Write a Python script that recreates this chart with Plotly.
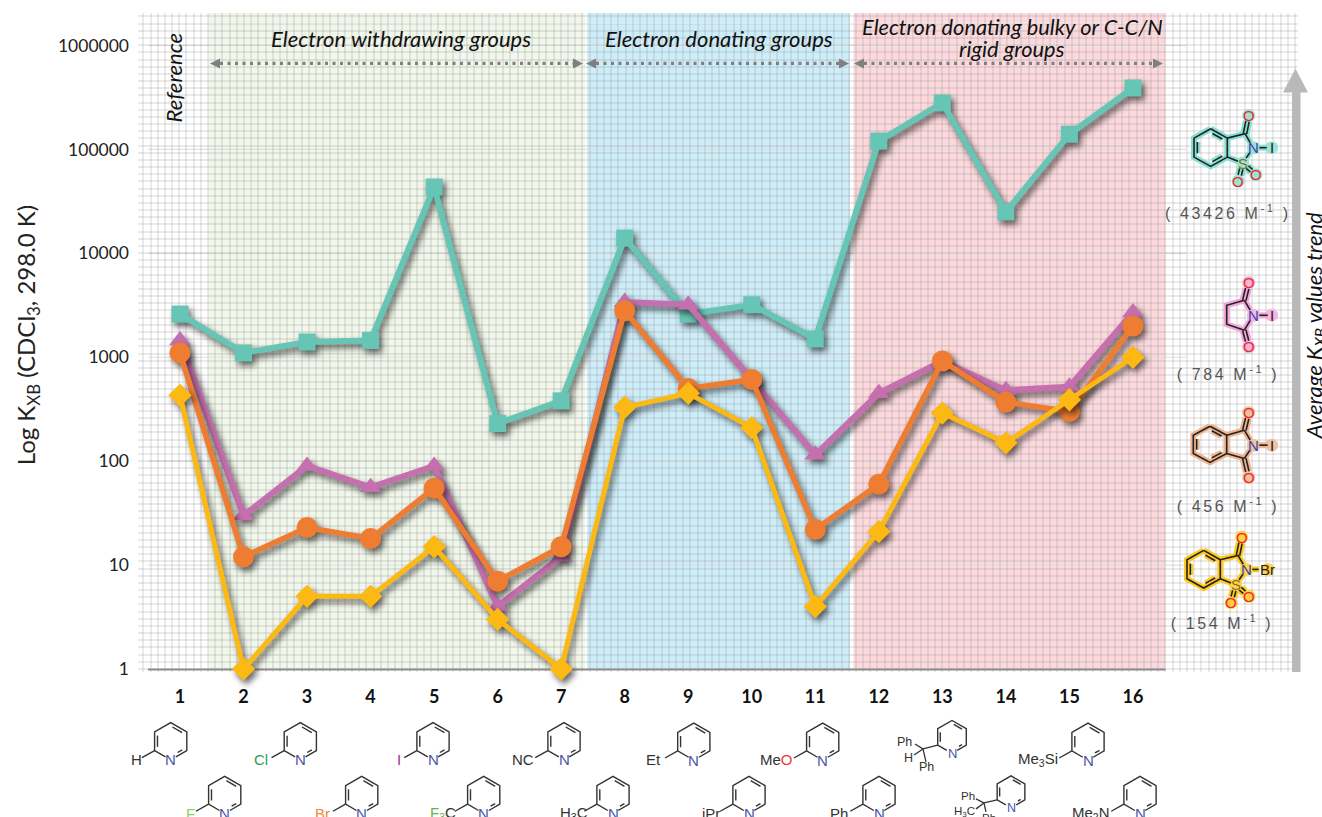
import math
import plotly.graph_objects as go

# ---------- data ----------
compounds = list(range(1, 17))
ticks_y = [1, 10, 100, 1000, 10000, 100000, 1000000]
nisac = [2600, 1100, 1400, 1450, 43426, 230, 380, 14000, 2600, 3200, 1500, 120000, 280000, 25000, 140000, 390000]
nis = [1450, 30, 90, 56, 90, 4, 12, 3400, 3200, 620, 115, 450, 920, 480, 520, 2700]
nip = [1100, 12, 23, 18, 55, 7, 15, 2800, 500, 610, 22, 60, 920, 370, 300, 2000]
nbsac = [430, 1, 5, 5, 15, 3, 1, 330, 450, 210, 4, 21, 290, 150, 390, 1000]

TEAL, PURPLE, ORANGE, YELLOW = "#66c5b4", "#c56fae", "#ee7d31", "#fdb913"
L, R, T, B = 138.0, 1298.0, 12.5, 672.0
W, H = 1322, 817


def px(x, y):
    return (x - L) / (R - L), (B - y) / (B - T)


shapes, annots = [], []


def poly(points, color, width=1.3, close=False, layer="above", fill=None, dash=None):
    s = ""
    for i, (x, y) in enumerate(points):
        a, b = px(x, y)
        s += ("M" if i == 0 else "L") + f"{a:.5f},{b:.5f} "
    if close:
        s += "Z"
    line = dict(color=color, width=width)
    if dash:
        line["dash"] = dash
    d = dict(type="path", xref="paper", yref="paper", path=s, line=line, layer=layer)
    if fill:
        d["fillcolor"] = fill
    shapes.append(d)


def rect(x0, y0, x1, y1, color, layer="below"):
    a0, b0 = px(x0, y0)
    a1, b1 = px(x1, y1)
    shapes.append(dict(type="rect", xref="paper", yref="paper", x0=a0, y0=b0, x1=a1, y1=b1,
                       fillcolor=color, line=dict(width=0), layer=layer))


def text(x, y, s, size=14, color="#222", font="Liberation Sans", angle=0, italic=False, anchor="center"):
    a, b = px(x, y)
    annots.append(dict(xref="paper", yref="paper", x=a, y=b, text=s, showarrow=False, xanchor=anchor,
                       yanchor="middle", textangle=angle,
                       font=dict(size=size, color=color, family=font, style="italic" if italic else "normal")))


def shorten(p, q, a=0.0, b=0.0):
    d = math.hypot(q[0] - p[0], q[1] - p[1])
    ux, uy = (q[0] - p[0]) / d, (q[1] - p[1]) / d
    return (p[0] + ux * a, p[1] + uy * a), (q[0] - ux * b, q[1] - uy * b)


# ---------- backgrounds ----------
rect(208.5, T, 585, 669, "#f1f7ea")
rect(587, T, 850, 669, "#cdedf9")
rect(853.5, T, 1165.5, 669, "#fcd9dc")

for yy in (23, 45):
    poly([(149, yy), (1187, yy)], "rgba(255,255,255,0.75)", 1.5, layer="between")
poly([(1187, 23), (1187, 672)], "rgba(255,255,255,0.9)", 1.5, layer="between")
poly([(149, 23), (149, 669)], "rgba(255,255,255,0.6)", 1.5, layer="between")
for k in range(1, 7):
    yy = 669 - 104 * k
    poly([(148, yy), (1186, yy)], "rgba(222,222,222,0.9)", 1.2, layer="between")
poly([(148, 669.5), (1165.5, 669.5)], "#8a8a8a", 2, layer="between")

# ---------- dotted range arrows ----------
GR = "#7f7f7f"
for x0, x1 in ((210, 583), (586, 849), (854, 1163)):
    poly([(x0 + 10, 63), (x1 - 8, 63)], GR, 3.2, dash="3px,4.5px", layer="above")
    poly([(x0, 63), (x0 + 10, 58), (x0 + 10, 68)], GR, 0, close=True, fill=GR)
    poly([(x1, 63), (x1 - 10, 58), (x1 - 10, 68)], GR, 0, close=True, fill=GR)

# ---------- big trend arrow ----------
AG = "#b9b9b9"
rect(1292, 90, 1300.5, 672, AG, layer="above")
poly([(1295.5, 68), (1308, 92), (1283, 92)], AG, 0, close=True, fill=AG)

# ---------- header text ----------
LA = "Lato"
text(400.5, 38, "Electron withdrawing groups", 22, "#111", LA, italic=True)
text(719, 38, "Electron donating groups", 22, "#111", LA, italic=True)
text(1012, 26, "Electron donating bulky or C-C/N", 21.8, "#111", LA, italic=True)
text(1012, 48, "rigid groups", 21.8, "#111", LA, italic=True)
text(173, 78, "Reference", 22, "#111", LA, angle=-90, italic=True)
text(27, 335, "Log K<sub>XB</sub> (CDCl<sub>3</sub>, 298.0 K)", 24, "#222", LA, angle=-90)
text(1315, 326, "Average K<sub>XB</sub> values trend", 22, "#111", LA, angle=-90, italic=True)

# ---------- pyridine ligands ----------
NB = "#4a55a8"


def pyridine(cx, cy, r, label, lx, ly, size=15):
    v = [(cx + r * math.sin(math.radians(60 * k)), cy - r * math.cos(math.radians(60 * k))) for k in range(6)]
    lc = "#333"
    p23 = shorten(v[2], v[3], 0, 6)
    p34 = shorten(v[3], v[4], 6, 0)
    poly([p34[0], v[4], v[5], v[0], v[1], v[2], p23[1]], lc, 1.4)
    for a, b, ex in ((0, 1, 0), (2, 3, 6), (4, 5, 0)):
        pa = (v[a][0] + (cx - v[a][0]) * 0.18, v[a][1] + (cy - v[a][1]) * 0.18)
        pb = (v[b][0] + (cx - v[b][0]) * 0.18, v[b][1] + (cy - v[b][1]) * 0.18)
        s = shorten(pa, pb, 2, 2 + ex)
        poly([s[0], s[1]], lc, 1.4)
    text(v[3][0], v[3][1], "N", size, NB)
    if label:
        poly([v[4], (v[4][0] - r * 0.68, v[4][1] + r * 0.38)], lc, 1.4)
        text(lx, ly, label, size, "#333", anchor="right")
    return v


def col(s, c):
    return f'<span style="color:{c}">{s}</span>'


pyridine(170.7, 741.3, 18.6, "H", 144, 760)
pyridine(300.3, 741.3, 18.6, col("Cl", "#2e9e4f"), 270, 760)
pyridine(433, 741.3, 18.6, col("I", "#a0349a"), 403, 760)
pyridine(564, 741.3, 18.6, "NC", 536, 760)
pyridine(224.7, 795, 18.6, col("F", "#8fd05a"), 197, 814)
pyridine(361.7, 795, 18.6, col("Br", "#f08a3c"), 332, 814)
pyridine(483.7, 795, 18.6, col("F<sub>3</sub>", "#6fb04a") + "C", 458, 814)
pyridine(613, 795, 18.6, "H<sub>3</sub>C", 590, 814)
pyridine(693.8, 741.7, 18.6, "Et", 663, 760)
pyridine(822.7, 741.7, 18.6, "Me" + col("O", "#f03a30"), 795, 760)
pyridine(1088, 741.7, 18.6, "Me<sub>3</sub>Si", 1060, 760)
pyridine(749, 795, 18.6, "iPr", 722, 814)
pyridine(879, 795, 18.6, "Ph", 850, 814)
pyridine(1140, 795, 18.6, "Me<sub>2</sub>N", 1112, 814)

v = pyridine(952, 737, 16.5, None, 0, 0, 13)
poly([v[4], (923, 749)], "#333", 1.3)
poly([(915, 744), (923, 749), (926, 762)], "#333", 1.3)
poly([(923, 749), (914, 755)], "#333", 1.3)
text(904, 742, "Ph", 12.5, "#333")
text(908, 758, "H", 12.5, "#333")
text(926, 767, "Ph", 12.5, "#333")

v = pyridine(1011, 792, 16, None, 0, 0, 12.5)
poly([v[4], (984, 803)], "#333", 1.3)
poly([(976, 799), (984, 803), (986, 812)], "#333", 1.3)
poly([(984, 803), (976, 809)], "#333", 1.3)
text(968, 796, "Ph", 11.5, "#333")
text(964, 812, "H<sub>3</sub>C", 11.5, "#333")
text(989, 818, "Ph", 11.5, "#333")


# ---------- halogen donors ----------
def molecule(segments, atoms, glow):
    for seg in segments:
        poly(seg, glow, 6)
    for name, x, y, c in atoms:
        a0, b0 = px(x - 6.5, y + 6.5)
        a1, b1 = px(x + 6.5, y - 6.5)
        shapes.append(dict(type="circle", xref="paper", yref="paper", x0=a0, y0=b0, x1=a1, y1=b1,
                           fillcolor=glow, line=dict(width=0), layer="above", opacity=0.8))
    for seg in segments:
        poly(seg, "#222", 1.6)
    for name, x, y, c in atoms:
        text(x, y, name, 15, c)


def inner(a, b, c):
    pa = (a[0] + (c[0] - a[0]) * 0.2, a[1] + (c[1] - a[1]) * 0.2)
    pb = (b[0] + (c[0] - b[0]) * 0.2, b[1] + (c[1] - b[1]) * 0.2)
    return list(shorten(pa, pb, 2, 2))


def dbl(p, q, off=1.7):
    d = math.hypot(q[0] - p[0], q[1] - p[1])
    nx, ny = -(q[1] - p[1]) / d * off, (q[0] - p[0]) / d * off
    return [[(p[0] + nx, p[1] + ny), (q[0] + nx, q[1] + ny)], [(p[0] - nx, p[1] - ny), (q[0] - nx, q[1] - ny)]]


def benzene(ring):
    c = (sum(p[0] for p in ring) / 6, sum(p[1] for p in ring) / 6)
    seg = [ring + [ring[0]]]
    for i in (0, 2, 4):
        seg.append(inner(ring[i], ring[(i + 1) % 6], c))
    return seg


RED, BLU = "#ee2a24", "#3742a8"


def saccharin(dx, dy, glow, hal, halx):
    P = lambda x, y: (x + dx, y + dy)
    ring = [P(1210.7, 128.3), P(1227.3, 137.7), P(1227.3, 156.7), P(1210.7, 166), P(1194, 156.7), P(1194, 137.7)]
    c, n, s = P(1245, 133.3), P(1253.3, 147.3), P(1242.7, 162.7)
    ot, ol, orr = P(1248.7, 115), P(1238.3, 180.7), P(1256, 174.3)
    seg = benzene(ring)
    seg.append([ring[1], c, shorten(c, n, 0, 6)[1]])
    seg.append([shorten(n, s, 6, 6)[0], shorten(n, s, 6, 6)[1]])
    seg.append([shorten(s, ring[2], 5, 0)[0], ring[2]])
    seg += dbl(*shorten(c, ot, 0, 6))
    seg += dbl(*shorten(s, ol, 6, 6))
    seg += dbl(*shorten(s, orr, 6, 6))
    seg.append(list(shorten(n, P(halx, 147.3), 6, 5 if hal == "I" else 9)))
    atoms = [("N", *n, BLU), ("S", *s, "#8a6d20"), ("O", *ot, RED), ("O", *ol, RED), ("O", *orr, RED),
             (hal, *P(halx, 147.3), "#222")]
    molecule(seg, atoms, glow)


def imide(ctop, n, cbot, ot, ob, ix, iy, extra, glow):
    seg = list(extra)
    seg.append([ctop, shorten(ctop, n, 0, 6)[1]])
    seg.append([shorten(n, cbot, 6, 0)[0], cbot])
    seg += dbl(*shorten(ctop, ot, 0, 6))
    seg += dbl(*shorten(cbot, ob, 0, 6))
    seg.append(list(shorten(n, (ix, iy), 6, 4)))
    atoms = [("N", *n, BLU), ("O", *ot, RED), ("O", *ob, RED), ("I", ix, iy, "#222")]
    molecule(seg, atoms, glow)


saccharin(0, 0, "#86dfd2", "I", 1271.7)
imide((1244.3, 300), (1253.3, 315), (1244.3, 330), (1248.7, 282.3), (1248.7, 346.7), 1271.7, 315,
      [[(1244.3, 300), (1226.7, 305), (1226.7, 324), (1244.3, 330)]], "#f3a6dc")
ph_ring = [(1210, 426), (1226.7, 435), (1226.7, 453.3), (1210, 462.3), (1193.3, 453.3), (1193.3, 435)]
imide((1244.3, 430), (1253.3, 445), (1244.3, 458.3), (1248.7, 412.3), (1248.7, 477.3), 1271.7, 445,
      benzene(ph_ring) + [[(1226.7, 435), (1244.3, 430)], [(1226.7, 453.3), (1244.3, 458.3)]], "#efb58e")
saccharin(-7, 422, "#ffc91f", "Br", 1267.7 + 7)

# donor constants
MG = "#555"
text(1228, 212, "( 43426 M<sup>-1</sup> )", 16, MG)
text(1228, 373, "( 784 M<sup>-1</sup> )", 16, MG)
text(1228, 505, "( 456 M<sup>-1</sup> )", 16, MG)
text(1222, 622, "( 154 M<sup>-1</sup> )", 16, MG)

# ---------- figure ----------
GRID = "rgba(150,150,150,0.2)"
fig = go.Figure()
series = [("NISac", nisac, TEAL, "square", 17, 6), ("NIS", nis, PURPLE, "triangle-up", 19, 6),
          ("NIP", nip, ORANGE, "circle", 21, 5.5), ("NBSac", nbsac, YELLOW, "diamond", 18, 5)]
for name, vals, c, sym, sz, lw in series:
    fig.add_trace(go.Scatter(x=compounds, y=vals, name=name, mode="lines+markers", cliponaxis=False,
                             line=dict(color=c, width=lw),
                             marker=dict(color=c, symbol=sym, size=sz, line=dict(width=0))))

fig.update_layout(
    width=W, height=H, showlegend=False, paper_bgcolor="white", plot_bgcolor="white",
    margin=dict(l=L, r=W - R, t=T, b=H - B, autoexpand=False),
    shapes=shapes, annotations=annots,
    xaxis=dict(range=[(L - 180) / 63.53 + 1, (R - 180) / 63.53 + 1], tickmode="array", tickvals=compounds,
               ticktext=[str(c) for c in compounds], showgrid=False, zeroline=False, showline=False, ticks="",
               ticklabelstandoff=12, tickfont=dict(family="Lato", size=18, color="#111", weight="bold"),
               minor=dict(tickmode="linear", tick0=0.4223, dtick=0.1133, showgrid=True, gridcolor=GRID, gridwidth=1.8,
                          ticks="")),
    yaxis=dict(type="log", range=[(669 - B) / 104, (669 - T) / 104], tickmode="array", tickvals=ticks_y,
               ticktext=[str(t) for t in ticks_y], showgrid=False, zeroline=False, showline=False, ticks="",
               ticklabelstandoff=8, tickfont=dict(family="Lato", size=17.5, color="#222"),
               minor=dict(tickmode="linear", tick0=0, dtick=0.069, showgrid=True, gridcolor=GRID, gridwidth=1.8,
                          ticks="")),
)

post = """
document.documentElement.style.overflow='hidden';
document.body.style.margin='0';
var st=document.createElement('style');
st.textContent='.scatterlayer .trace{filter:drop-shadow(3px 4px 3px rgba(0,0,0,.6));}';
document.head.appendChild(st);
document.querySelectorAll('.annotation-text').forEach(function(t){
  if(t.textContent.charAt(0)==='('){t.style.letterSpacing='2.6px';}
});
"""
fig.write_html("out.html", post_script=post, config=dict(displayModeBar=False))
